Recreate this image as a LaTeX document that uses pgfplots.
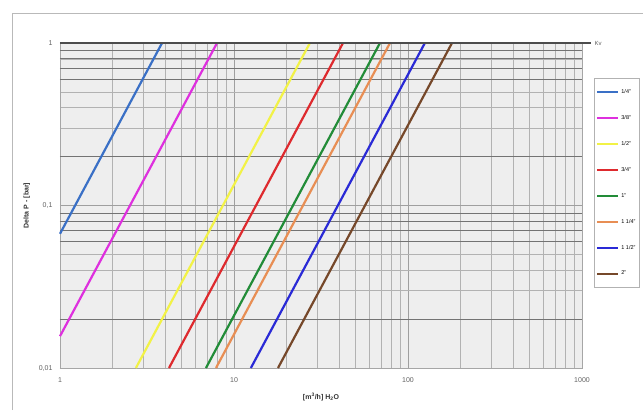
\documentclass[border=0pt]{standalone}
\usepackage{pgfplots}
\pgfplotsset{compat=1.18}
\usepackage{fontspec}
\setmainfont{Liberation Sans}
\definecolor{c14}{RGB}{58,112,198}
\definecolor{c38}{RGB}{222,48,222}
\definecolor{c12}{RGB}{242,242,70}
\definecolor{c34}{RGB}{222,42,46}
\definecolor{c1}{RGB}{34,140,56}
\definecolor{c114}{RGB}{232,142,84}
\definecolor{c112}{RGB}{42,42,214}
\definecolor{c2}{RGB}{118,72,42}
\begin{document}
\begin{tikzpicture}[x=1pt,y=1pt]
\path[use as bounding box] (0,0) rectangle (643,410);
% chart area frame
\draw[gray!55, line width=0.8pt] (12,0) -- (12,397) -- (643,397);
\begin{axis}[
    at={(60pt,42pt)}, anchor=south west,
    scale only axis, width=522pt, height=325pt,
    xmode=log, ymode=log,
    xmin=1, xmax=1000, ymin=0.01, ymax=1,
    clip=false,
    axis background/.style={fill=gray!13},
    axis line style={gray!70},
    xtick={1,10,100,1000}, xticklabels={1,10,100,1000},
    ytick={0.01,0.1,1},
    yticklabels={{0,01},{0,1},{1}},
    major tick length=0pt, minor tick length=0pt,
    grid=both,
    major grid style={gray!75, line width=0.5pt},
    minor grid style={gray!60, line width=0.45pt},
    extra y ticks={0.2,0.02,0.9,0.8,0.7,0.6,0.09,0.08,0.07,0.06},
    extra y tick labels={},
    extra y tick style={grid=major, major grid style={black!55, line width=0.7pt}},
    ticklabel style={font=\fontsize{7}{8}\selectfont, text=gray!75!black},
    xticklabel style={yshift=-6pt},
    yticklabel style={xshift=-4pt},
    xlabel={\textbf{[m\textsuperscript{3}/h] H\textsubscript{2}O}},
    ylabel={\textbf{Delta P - [bar]}},
    label style={font=\fontsize{7}{8}\selectfont, text=black!80},
    xlabel style={yshift=-4pt},
    ylabel style={yshift=2pt},
    legend cell align=left,
    legend style={at={(1.023,0.892)}, anchor=north west,
        draw=gray!60, fill=white, font=\fontsize{5.5}{6.5}\selectfont,
        row sep=16.5pt, inner xsep=2pt, inner ysep=9pt},
    legend image code/.code={\draw[#1] (0pt,0pt) -- (21pt,0pt);},
    every axis plot/.append style={line width=2.2pt},
]
\addplot[c14]  coordinates {(1,0.067) (3.86,1)};
\addplot[c38]  coordinates {(1,0.0157) (7.99,1)};
\addplot[c12]  coordinates {(2.73,0.01) (27.3,1)};
\addplot[c34]  coordinates {(4.23,0.01) (42.3,1)};
\addplot[c1]   coordinates {(6.9,0.01) (69,1)};
\addplot[c114] coordinates {(7.88,0.01) (78.8,1)};
\addplot[c112] coordinates {(12.5,0.01) (125,1)};
\addplot[c2]   coordinates {(17.9,0.01) (179,1)};
\legend{1/4",3/8",1/2",3/4",1",1 1/4",1 1/2",2"}
\addplot[black!70, line width=1.2pt, forget plot] coordinates {(1,1) (1130,1)}
    node[pos=1, anchor=west, font=\fontsize{6}{7}\selectfont, text=gray!75!black, line width=0pt] {Kv};
\end{axis}
\end{tikzpicture}
\end{document}
